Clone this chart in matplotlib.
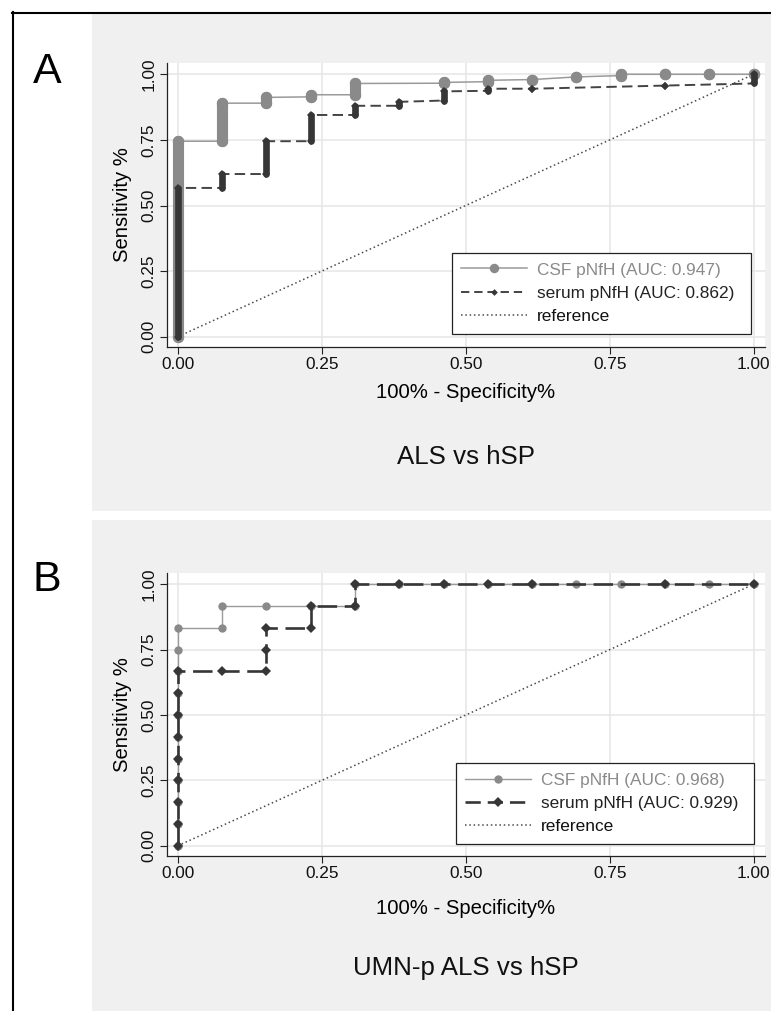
import matplotlib
matplotlib.use("Agg")
import matplotlib.pyplot as plt
from matplotlib.lines import Line2D
from matplotlib.patches import Rectangle
import numpy as np

plt.rcParams['font.family'] = ['Liberation Sans', 'DejaVu Sans']
plt.rcParams['lines.scale_dashes'] = False

# ---------------- data ----------------
N_CONTROLS = 13          # hSP controls -> x steps of 1/13

# Panel A (ALS vs hSP): ROC columns (control step, sensitivity bottom, sensitivity top)
a_csf_step = [0, 1, 2, 3, 4, 6, 7, 8, 9, 10, 11, 12, 13]
a_csf_low = [0.0, 0.745, 0.89, 0.914, 0.922, 0.966, 0.972, 0.98, 0.99, 0.995, 1.0, 1.0, 1.0]
a_csf_high = [0.745, 0.89, 0.912, 0.922, 0.965, 0.969, 0.977, 0.98, 0.99, 1.0, 1.0, 1.0, 1.0]

a_ser_step = [0, 1, 2, 3, 4, 5, 6, 7, 8, 11, 13]
a_ser_low = [0.0, 0.567, 0.62, 0.745, 0.845, 0.88, 0.90, 0.937, 0.945, 0.957, 0.965]
a_ser_high = [0.567, 0.62, 0.745, 0.845, 0.88, 0.895, 0.935, 0.945, 0.945, 0.957, 1.0]

# Panel B (UMN-p ALS vs hSP): ROC points, as counts (false positives of 13, true positives of 12)
N_CASES_B = 12
b_csf_fp = [0, 0, 0, 0, 0, 0, 0, 0, 0, 0, 0, 1, 1, 2, 3, 4, 4, 5, 6, 7, 8, 9, 10, 11, 12, 13]
b_csf_tp = [0, 1, 2, 3, 4, 5, 6, 7, 8, 9, 10, 10, 11, 11, 11, 11, 12, 12, 12, 12, 12, 12, 12, 12, 12, 12]
b_ser_fp = [0, 0, 0, 0, 0, 0, 0, 0, 0, 1, 2, 2, 2, 3, 3, 4, 4, 5, 6, 7, 8, 11, 13]
b_ser_tp = [0, 1, 2, 3, 4, 5, 6, 7, 8, 8, 8, 9, 10, 10, 11, 11, 12, 12, 12, 12, 12, 12, 12]

ticks = [0.0, 0.25, 0.5, 0.75, 1.0]
tick_labels = ["0.00", "0.25", "0.50", "0.75", "1.00"]
labels_A = ["CSF pNfH (AUC: 0.947)", "serum pNfH (AUC: 0.862)", "reference"]
labels_B = ["CSF pNfH (AUC: 0.968)", "serum pNfH (AUC: 0.929)", "reference"]
titles = ["ALS vs hSP", "UMN-p ALS vs hSP"]
panel_letters = ["A", "B"]

# ---------------- style ----------------
W, H, DPI = 771, 1011, 100
PANEL_BG = "#f0f0f0"
GRID = "#e6e6e6"
CSF_MK = "#8a8a8a"
CSF_LN = "#9a9a9a"
SER = "#363636"
SER_LN = "#444444"
REF = "#4a4a4a"
FS_TICK = 12.4
FS_LAB = 14.6
FS_TITLE = 18.6
FS_LET = 31

fig = plt.figure(figsize=(W / DPI, H / DPI), dpi=DPI, facecolor="white")


def fx(px):
    return px / W


def fy(py):
    return 1 - py / H


# gray panel backgrounds
for (y0, y1) in [(13, 511), (520, 1011)]:
    fig.patches.append(Rectangle((fx(92), fy(y1)), fx(771 - 92), (y1 - y0) / H,
                                 transform=fig.transFigure, facecolor=PANEL_BG,
                                 edgecolor="none", zorder=-5))
# black frame
fig.add_artist(Line2D([fx(12.5), fx(12.5)], [fy(12), fy(1011)], color="black", lw=1.5,
                      transform=fig.transFigure))
fig.add_artist(Line2D([fx(12), fx(771)], [fy(12.5), fy(12.5)], color="black", lw=1.5,
                      transform=fig.transFigure))

XLIM = (-0.0186, 1.0196)
YLIM = (-0.039, 1.043)


def make_axes(top, bottom):
    ax = fig.add_axes([fx(167), fy(bottom), fx(765 - 167), (bottom - top) / H])
    ax.set_facecolor("white")
    ax.set_xlim(*XLIM)
    ax.set_ylim(*YLIM)
    for s in ["top", "right"]:
        ax.spines[s].set_visible(False)
    for s in ["left", "bottom"]:
        ax.spines[s].set_color("#222222")
        ax.spines[s].set_linewidth(0.9)
    ax.set_xticks(ticks, labels=tick_labels)
    ax.set_yticks(ticks, labels=tick_labels, rotation=90, va="center")
    ax.tick_params(axis="both", direction="out", length=5, width=0.8, colors="#222222",
                   labelsize=FS_TICK, labelcolor="#111111")
    ax.tick_params(axis="x", pad=2.5)
    ax.tick_params(axis="y", pad=2.5)
    ax.grid(True, color=GRID, lw=1.1)
    ax.set_axisbelow(True)
    ax.set_xlabel("100% - Specificity%", fontsize=FS_LAB, va="center")
    ax.set_ylabel("Sensitivity %", fontsize=FS_LAB, va="center")
    ax.yaxis.set_label_coords((123 - 167) / (765 - 167), 0.5)
    return ax


def reference(ax):
    ax.plot([0, 1], [0, 1], color=REF, lw=1.1, ls=(0, (1.1, 2.0)), zorder=2)


def draw_columns(ax, step, low, high, ln_color, ln_w, ln_style, mk, mk_color, mk_size,
                 col_w, z):
    x = np.array(step) / N_CONTROLS
    lo = np.array(low)
    hi = np.array(high)
    px = np.repeat(x, 2)
    py = np.column_stack([lo, hi]).ravel()
    ax.plot(px, py, color=ln_color, lw=ln_w, ls=ln_style, zorder=z)
    thick = hi > lo
    vl = ax.vlines(x[thick], lo[thick], hi[thick], colors=mk_color, lw=col_w, zorder=z + 0.1)
    vl.set_capstyle("round")
    ax.plot(px, py, ls="none", marker=mk, color=mk_color, markersize=mk_size,
            markeredgewidth=0, zorder=z + 0.2)


# ---------------- Panel A ----------------
axA = make_axes(63, 347)
axA.xaxis.set_label_coords(0.5, (347 - 393) / (347 - 63))
reference(axA)
draw_columns(axA, a_csf_step, a_csf_low, a_csf_high, CSF_LN, 1.1, "-", "o", CSF_MK, 8.2,
             8.0, 3)
draw_columns(axA, a_ser_step, a_ser_low, a_ser_high, SER_LN, 1.4, (0, (7.5, 3.8)), "D", SER,
             3.6, 4.8, 4)

hA = [Line2D([], [], color=CSF_LN, lw=1.1, marker="o", markersize=6.8, markerfacecolor=CSF_MK,
             markeredgewidth=0),
      Line2D([], [], color=SER_LN, lw=1.4, ls=(0, (6, 3.5)), marker="D", markersize=3.4,
             markerfacecolor=SER, markeredgewidth=0),
      Line2D([], [], color=REF, lw=1.1, ls=(0, (1.1, 2.0)))]

# ---------------- Panel B ----------------
axB = make_axes(573, 856)
axB.xaxis.set_label_coords(0.5, (856 - 908) / (856 - 573))
reference(axB)
axB.plot(np.array(b_csf_fp) / N_CONTROLS, np.array(b_csf_tp) / N_CASES_B, color=CSF_LN,
         lw=1.0, marker="o", markersize=6.0, markerfacecolor=CSF_MK, markeredgewidth=0,
         zorder=3)
axB.plot(np.array(b_ser_fp) / N_CONTROLS, np.array(b_ser_tp) / N_CASES_B, color=SER,
         lw=1.9, ls=(0, (14, 5.5)), marker="D", markersize=5.4, markerfacecolor=SER,
         markeredgewidth=0, zorder=4)

hB = [Line2D([], [], color=CSF_LN, lw=1.0, marker="o", markersize=6.0, markerfacecolor=CSF_MK,
             markeredgewidth=0),
      Line2D([], [], color=SER, lw=1.9, ls=(0, (11, 5)), marker="D", markersize=5.4,
             markerfacecolor=SER, markeredgewidth=0),
      Line2D([], [], color=REF, lw=1.1, ls=(0, (1.1, 2.0)))]

text_colors = [CSF_MK, "#222222", "#111111"]
for ax, handles, labs, (lx, ly, lw_) in [(axA, hA, labels_A, (452, 253, 299)),
                                         (axB, hB, labels_B, (456, 763, 298))]:
    leg = ax.legend(handles, labs, loc="upper left",
                    bbox_to_anchor=(fx(lx), fy(ly + 80), lw_ / W, 80 / H),
                    bbox_transform=fig.transFigure, mode="expand", borderaxespad=0,
                    fontsize=FS_TICK, handlelength=3.8, handletextpad=0.6,
                    labelspacing=0.48, borderpad=0.55, fancybox=False, framealpha=1,
                    edgecolor="#222222", numpoints=1)
    leg.get_frame().set_linewidth(0.9)
    for t, c in zip(leg.get_texts(), text_colors):
        t.set_color(c)

# titles and panel letters
for (ty, title) in zip([457, 968], titles):
    fig.text(fx(466), fy(ty), title, ha="center", va="center", fontsize=FS_TITLE,
             color="#111111")
for (ly, let) in zip([72, 580], panel_letters):
    fig.text(fx(47), fy(ly), let, ha="center", va="center", fontsize=FS_LET, color="black")

fig.savefig("out.png", dpi=DPI, facecolor="white")
